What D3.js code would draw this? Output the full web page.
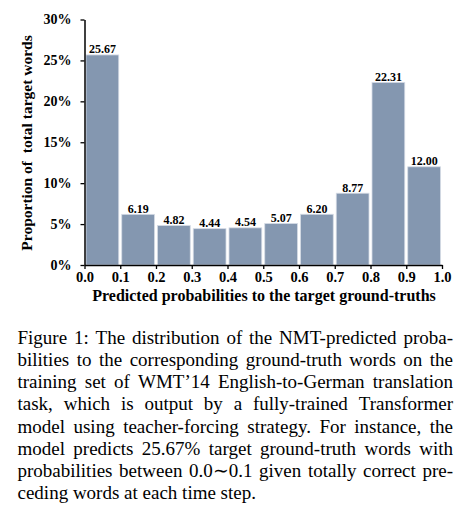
<!DOCTYPE html>
<html>
<head>
<meta charset="utf-8">
<script src="https://cdn.jsdelivr.net/npm/d3@7"></script>
<style>
  html, body { margin: 0; padding: 0; background: #fff; }
  svg { display: block; }
</style>
</head>
<body>
<svg id="chart" width="474" height="527"></svg>
<script>
// ---- data ----
const binStarts = [0.0, 0.1, 0.2, 0.3, 0.4, 0.5, 0.6, 0.7, 0.8, 0.9];
const values = [25.67, 6.19, 4.82, 4.44, 4.54, 5.07, 6.20, 8.77, 22.31, 12.00];
const valueLabels = ["25.67", "6.19", "4.82", "4.44", "4.54", "5.07", "6.20", "8.77", "22.31", "12.00"];
const xTicks = [0.0, 0.1, 0.2, 0.3, 0.4, 0.5, 0.6, 0.7, 0.8, 0.9, 1.0];
const yTicks = [0, 5, 10, 15, 20, 25, 30];
const xTitle = "Predicted probabilities to the target ground-truths";
const yTitle = "Proportion of\u00a0 total target words";
const captionLines = [
  "Figure 1: The distribution of the NMT-predicted proba-",
  "bilities to the corresponding ground-truth words on the",
  "training set of WMT\u201914 English-to-German translation",
  "task, which is output by a fully-trained Transformer",
  "model using teacher-forcing strategy. For instance, the",
  "model predicts 25.67% target ground-truth words with",
  "probabilities between 0.0\u223C0.1 given totally correct pre-",
  "ceding words at each time step."
];

// ---- layout ----
const svg = d3.select("#chart");
const serif = "'Liberation Serif', 'Times New Roman', serif";
const x = d3.scaleLinear().domain([0, 1]).range([84.5, 442]);
const y = d3.scaleLinear().domain([0, 30]).range([265, 19.5]);

// bars
svg.append("g").selectAll("rect").data(values).join("rect")
  .attr("x", (d, i) => x(binStarts[i]) + 1.5)
  .attr("width", (d, i) => x(binStarts[i] + 0.1) - x(binStarts[i]) - 3)
  .attr("y", d => y(d))
  .attr("height", d => y(0) - y(d))
  .attr("fill", "#8497b0")
  .attr("stroke", "#d5dbe5")
  .attr("stroke-width", 0.8);

// value labels
svg.append("g").selectAll("text").data(values).join("text")
  .attr("x", (d, i) => x(binStarts[i] + 0.05))
  .attr("y", d => y(d) - 1.5)
  .attr("text-anchor", "middle")
  .attr("font-family", serif)
  .attr("font-weight", "bold")
  .attr("font-size", 12)
  .text((d, i) => valueLabels[i]);

// axes
const yAxis = d3.axisLeft(y).tickValues(yTicks).tickFormat(d => d + "%")
  .tickSize(4).tickSizeOuter(0).tickPadding(9);
const xAxis = d3.axisBottom(x).tickValues(xTicks).tickFormat(d3.format(".1f"))
  .tickSize(4).tickSizeOuter(0).tickPadding(3);

const gy = svg.append("g").attr("transform", `translate(${x(0)},0)`).call(yAxis);
const gx = svg.append("g").attr("transform", `translate(0,${y(0)})`).call(xAxis);
[gx, gy].forEach(g => {
  g.select(".domain").attr("stroke", "#000").attr("stroke-width", 1.5);
  g.selectAll(".tick line").attr("stroke", "#000").attr("stroke-width", 1.3);
  g.selectAll(".tick text").attr("fill", "#000")
    .attr("font-family", serif).attr("font-weight", "bold");
});
gy.selectAll(".tick text").attr("font-size", 14);
gx.selectAll(".tick text").attr("font-size", 14.5);

// axis titles
svg.append("text")
  .attr("x", 264).attr("y", 301)
  .attr("text-anchor", "middle")
  .attr("font-family", serif).attr("font-weight", "bold").attr("font-size", 16)
  .text(xTitle);

svg.append("text")
  .attr("transform", "translate(32,143) rotate(-90)")
  .attr("text-anchor", "middle")
  .attr("font-family", serif).attr("font-weight", "bold").attr("font-size", 15.5)
  .text(yTitle);

// caption (justified)
const capLeft = 17.5, capRight = 453, capTop = 344, capLead = 22.15, capSize = 19;
const cap = svg.append("g").attr("font-family", serif).attr("font-size", capSize).attr("fill", "#000");
captionLines.forEach((line, li) => {
  const by = capTop + li * capLead;
  const last = li === captionLines.length - 1;
  if (last) {
    cap.append("text").attr("x", capLeft).attr("y", by).text(line);
    return;
  }
  const words = line.split(" ");
  const nodes = words.map(w => cap.append("text").attr("y", by).text(w));
  const widths = nodes.map(n => n.node().getComputedTextLength());
  const total = d3.sum(widths);
  const gap = (capRight - capLeft - total) / (words.length - 1);
  let cx = capLeft;
  nodes.forEach((n, i) => { n.attr("x", cx); cx += widths[i] + gap; });
});
</script>
</body>
</html>
